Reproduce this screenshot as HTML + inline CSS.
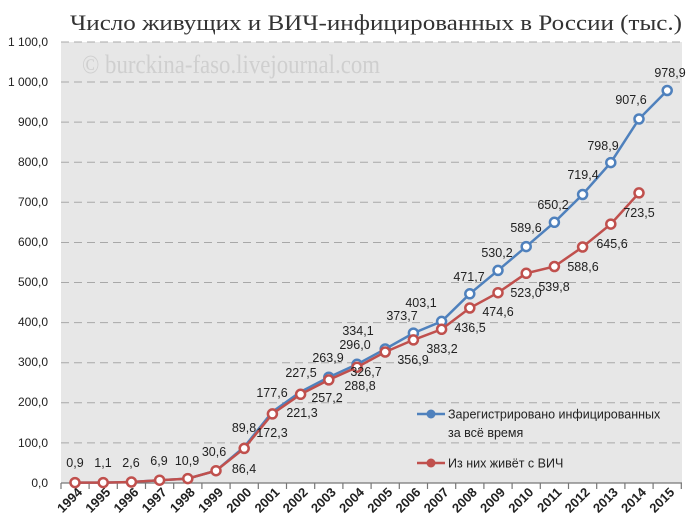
<!DOCTYPE html>
<html><head><meta charset="utf-8"><style>
html,body{margin:0;padding:0;background:#fff}
svg{display:block;font-family:"Liberation Sans",sans-serif}
.d{font-size:12.5px;fill:#222;text-anchor:middle;dominant-baseline:central}
.y{font-size:12px;fill:#222;text-anchor:end;dominant-baseline:central}
.x{font-size:13px;font-weight:bold;fill:#222;text-anchor:end}
</style></head><body>
<svg width="700" height="532" viewBox="0 0 700 532">
<rect x="61" y="42" width="621" height="441" fill="#e7e7e7"/>
<text x="70" y="30" font-family="Liberation Serif,serif" font-size="22" fill="#333" textLength="612" lengthAdjust="spacingAndGlyphs">Число живущих и ВИЧ-инфицированных в России (тыс.)</text>
<text x="82" y="73" font-family="Liberation Serif,serif" font-size="26" fill="#cfcfcf" textLength="298" lengthAdjust="spacingAndGlyphs">© burckina-faso.livejournal.com</text>
<g stroke="#a8a8a8" stroke-width="1" stroke-dasharray="8,5">
<line x1="61" x2="682" y1="42" y2="42"/><line x1="61" x2="682" y1="82" y2="82"/><line x1="61" x2="682" y1="122.1" y2="122.1"/><line x1="61" x2="682" y1="162.2" y2="162.2"/><line x1="61" x2="682" y1="202.3" y2="202.3"/><line x1="61" x2="682" y1="242.5" y2="242.5"/><line x1="61" x2="682" y1="282.5" y2="282.5"/><line x1="61" x2="682" y1="322.6" y2="322.6"/><line x1="61" x2="682" y1="362.7" y2="362.7"/><line x1="61" x2="682" y1="402.8" y2="402.8"/><line x1="61" x2="682" y1="442.9" y2="442.9"/>
</g>
<g>
<text class="y" x="48" y="42">1 100,0</text><text class="y" x="48" y="82">1 000,0</text><text class="y" x="48" y="122">900,0</text><text class="y" x="48" y="162">800,0</text><text class="y" x="48" y="202">700,0</text><text class="y" x="48" y="242">600,0</text><text class="y" x="48" y="282">500,0</text><text class="y" x="48" y="322">400,0</text><text class="y" x="48" y="362">300,0</text><text class="y" x="48" y="402">200,0</text><text class="y" x="48" y="443">100,0</text><text class="y" x="48" y="483">0,0</text>
</g>
<line x1="61" x2="682" y1="483" y2="483" stroke="#777" stroke-width="1.2"/>
<g stroke="#777" stroke-width="1.2">
<line x1="61" x2="61" y1="483" y2="489"/><line x1="89.1" x2="89.1" y1="483" y2="489"/><line x1="117.3" x2="117.3" y1="483" y2="489"/><line x1="145.5" x2="145.5" y1="483" y2="489"/><line x1="173.7" x2="173.7" y1="483" y2="489"/><line x1="201.9" x2="201.9" y1="483" y2="489"/><line x1="230.1" x2="230.1" y1="483" y2="489"/><line x1="258.3" x2="258.3" y1="483" y2="489"/><line x1="286.5" x2="286.5" y1="483" y2="489"/><line x1="314.7" x2="314.7" y1="483" y2="489"/><line x1="342.9" x2="342.9" y1="483" y2="489"/><line x1="371.1" x2="371.1" y1="483" y2="489"/><line x1="399.3" x2="399.3" y1="483" y2="489"/><line x1="427.5" x2="427.5" y1="483" y2="489"/><line x1="455.7" x2="455.7" y1="483" y2="489"/><line x1="483.9" x2="483.9" y1="483" y2="489"/><line x1="512.1" x2="512.1" y1="483" y2="489"/><line x1="540.3" x2="540.3" y1="483" y2="489"/><line x1="568.5" x2="568.5" y1="483" y2="489"/><line x1="596.7" x2="596.7" y1="483" y2="489"/><line x1="624.9" x2="624.9" y1="483" y2="489"/><line x1="653.1" x2="653.1" y1="483" y2="489"/><line x1="681.3" x2="681.3" y1="483" y2="489"/>
</g>
<g>
<text class="x" transform="translate(83,493) rotate(-45)">1994</text>
<text class="x" transform="translate(111.2,493) rotate(-45)">1995</text>
<text class="x" transform="translate(139.4,493) rotate(-45)">1996</text>
<text class="x" transform="translate(167.6,493) rotate(-45)">1997</text>
<text class="x" transform="translate(195.8,493) rotate(-45)">1998</text>
<text class="x" transform="translate(224,493) rotate(-45)">1999</text>
<text class="x" transform="translate(252.2,493) rotate(-45)">2000</text>
<text class="x" transform="translate(280.4,493) rotate(-45)">2001</text>
<text class="x" transform="translate(308.6,493) rotate(-45)">2002</text>
<text class="x" transform="translate(336.8,493) rotate(-45)">2003</text>
<text class="x" transform="translate(365,493) rotate(-45)">2004</text>
<text class="x" transform="translate(393.2,493) rotate(-45)">2005</text>
<text class="x" transform="translate(421.4,493) rotate(-45)">2006</text>
<text class="x" transform="translate(449.6,493) rotate(-45)">2007</text>
<text class="x" transform="translate(477.8,493) rotate(-45)">2008</text>
<text class="x" transform="translate(506,493) rotate(-45)">2009</text>
<text class="x" transform="translate(534.2,493) rotate(-45)">2010</text>
<text class="x" transform="translate(562.4,493) rotate(-45)">2011</text>
<text class="x" transform="translate(590.6,493) rotate(-45)">2012</text>
<text class="x" transform="translate(618.8,493) rotate(-45)">2013</text>
<text class="x" transform="translate(647,493) rotate(-45)">2014</text>
<text class="x" transform="translate(675.2,493) rotate(-45)">2015</text>
</g>
<polyline fill="none" stroke="#4f81bd" stroke-width="2.5" points="75,482.6 103.2,482.6 131.4,482 159.6,480.2 187.8,478.6 216,470.7 244.2,447 272.4,411.8 300.6,391.8 328.8,377.2 357,364.3 385.2,349 413.4,333.1 441.6,321.4 469.8,293.8 498,270.4 526.2,246.6 554.4,222.3 582.6,194.5 610.8,162.6 639,119 667.2,90.5"/>
<g fill="#fff" stroke="#4f81bd" stroke-width="2.5">
<circle cx="328.8" cy="377.2" r="4.5"/><circle cx="357" cy="364.3" r="4.5"/><circle cx="385.2" cy="349" r="4.5"/><circle cx="413.4" cy="333.1" r="4.5"/><circle cx="441.6" cy="321.4" r="4.5"/><circle cx="469.8" cy="293.8" r="4.5"/><circle cx="498" cy="270.4" r="4.5"/><circle cx="526.2" cy="246.6" r="4.5"/><circle cx="554.4" cy="222.3" r="4.5"/><circle cx="582.6" cy="194.5" r="4.5"/><circle cx="610.8" cy="162.6" r="4.5"/><circle cx="639" cy="119" r="4.5"/><circle cx="667.2" cy="90.5" r="4.5"/>
</g>
<polyline fill="none" stroke="#c0504d" stroke-width="2.5" points="75,482.6 103.2,482.6 131.4,482 159.6,480.2 187.8,478.6 216,470.7 244.2,448.4 272.4,413.9 300.6,394.3 328.8,379.9 357,367.2 385.2,352 413.4,339.9 441.6,329.3 469.8,308 498,292.7 526.2,273.3 554.4,266.5 582.6,247 610.8,224.1 639,192.9"/>
<g fill="#fff" stroke="#c0504d" stroke-width="2.5">
<circle cx="75" cy="482.6" r="4.5"/><circle cx="103.2" cy="482.6" r="4.5"/><circle cx="131.4" cy="482" r="4.5"/><circle cx="159.6" cy="480.2" r="4.5"/><circle cx="187.8" cy="478.6" r="4.5"/><circle cx="216" cy="470.7" r="4.5"/><circle cx="244.2" cy="448.4" r="4.5"/><circle cx="272.4" cy="413.9" r="4.5"/><circle cx="300.6" cy="394.3" r="4.5"/><circle cx="328.8" cy="379.9" r="4.5"/><circle cx="357" cy="367.2" r="4.5"/><circle cx="385.2" cy="352" r="4.5"/><circle cx="413.4" cy="339.9" r="4.5"/><circle cx="441.6" cy="329.3" r="4.5"/><circle cx="469.8" cy="308" r="4.5"/><circle cx="498" cy="292.7" r="4.5"/><circle cx="526.2" cy="273.3" r="4.5"/><circle cx="554.4" cy="266.5" r="4.5"/><circle cx="582.6" cy="247" r="4.5"/><circle cx="610.8" cy="224.1" r="4.5"/><circle cx="639" cy="192.9" r="4.5"/>
</g>
<g>
<text class="d" x="75" y="463">0,9</text><text class="d" x="103" y="463">1,1</text><text class="d" x="131" y="463">2,6</text><text class="d" x="159" y="461">6,9</text><text class="d" x="187" y="461">10,9</text><text class="d" x="214" y="452">30,6</text><text class="d" x="244" y="428">89,8</text><text class="d" x="272" y="393">177,6</text><text class="d" x="301" y="373">227,5</text><text class="d" x="328" y="358">263,9</text><text class="d" x="355" y="345">296,0</text><text class="d" x="358" y="331">334,1</text><text class="d" x="402" y="316">373,7</text><text class="d" x="421" y="303">403,1</text><text class="d" x="469" y="277">471,7</text><text class="d" x="497" y="253">530,2</text><text class="d" x="526" y="228">589,6</text><text class="d" x="553" y="205">650,2</text><text class="d" x="583" y="175">719,4</text><text class="d" x="603" y="146">798,9</text><text class="d" x="631" y="100">907,6</text><text class="d" x="670" y="73">978,9</text>
</g>
<g>
<text class="d" x="244" y="469">86,4</text><text class="d" x="272" y="433">172,3</text><text class="d" x="302" y="413">221,3</text><text class="d" x="327" y="398">257,2</text><text class="d" x="360" y="386">288,8</text><text class="d" x="366" y="372">326,7</text><text class="d" x="413" y="360">356,9</text><text class="d" x="442" y="349">383,2</text><text class="d" x="470" y="328">436,5</text><text class="d" x="498" y="312">474,6</text><text class="d" x="526" y="293">523,0</text><text class="d" x="554" y="287">539,8</text><text class="d" x="583" y="267">588,6</text><text class="d" x="612" y="244">645,6</text><text class="d" x="639" y="213">723,5</text>
</g>
<line x1="417" x2="445" y1="414" y2="414" stroke="#4f81bd" stroke-width="2.5"/>
<circle cx="431" cy="414" r="4.5" fill="#4f81bd"/>
<text x="448" y="418.5" font-size="12.5" fill="#222">Зарегистрировано инфицированных</text>
<text x="448" y="437" font-size="12.5" fill="#222">за всё время</text>
<line x1="417" x2="445" y1="463" y2="463" stroke="#c0504d" stroke-width="2.5"/>
<circle cx="431" cy="463" r="4.5" fill="#c0504d"/>
<text x="448" y="467.5" font-size="12.5" fill="#222">Из них живёт с ВИЧ</text>
</svg>
</body></html>
